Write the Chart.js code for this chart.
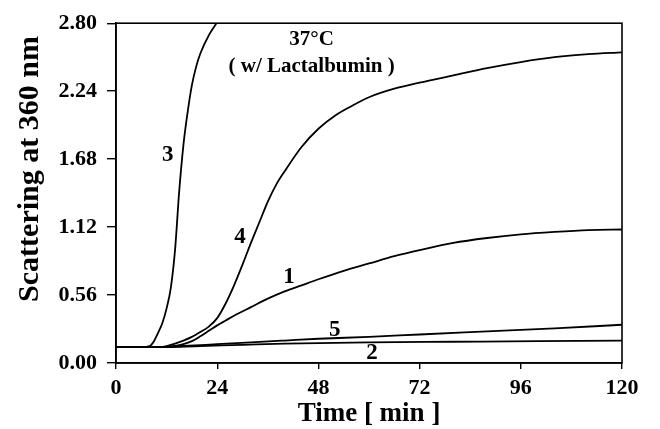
<!DOCTYPE html>
<html>
<head>
<meta charset="utf-8">
<script src="https://cdn.jsdelivr.net/npm/chart.js@4"></script>
<style>
  html, body { margin: 0; padding: 0; background: #fff; }
  #wrap { width: 660px; height: 429px; }
</style>
</head>
<body>
<div id="wrap"><canvas id="chart" width="660" height="429"></canvas></div>
<script>
// time in minutes, scattering at 360 nm
const t1 = [0, 10, 14, 16, 18, 20, 22, 24, 26, 28, 32, 36, 40, 44, 48, 54, 60, 66, 72, 80, 88, 96, 104, 112, 120];
const curve1 = [0.13, 0.13, 0.14, 0.155, 0.18, 0.22, 0.265, 0.31, 0.35, 0.39, 0.46, 0.53, 0.59, 0.64, 0.69, 0.76, 0.82, 0.88, 0.93, 0.99, 1.03, 1.06, 1.08, 1.095, 1.10];

const t2 = [0, 10, 20, 30, 40, 60, 80, 100, 120];
const curve2 = [0.13, 0.13, 0.14, 0.15, 0.16, 0.17, 0.175, 0.18, 0.185];

const t3 = [0, 6, 8, 9, 10, 11, 12, 13, 14, 15, 16, 17, 18, 19, 20, 22, 24, 26];
const curve3 = [0.13, 0.13, 0.14, 0.18, 0.25, 0.33, 0.45, 0.62, 0.93, 1.42, 1.80, 2.07, 2.29, 2.44, 2.55, 2.70, 2.81, 2.93];

const t4 = [0, 10, 12, 14, 16, 18, 20, 22, 24, 26, 28, 30, 32, 34, 36, 38, 40, 44, 48, 52, 56, 60, 66, 72, 80, 88, 96, 104, 112, 120];
const curve4 = [0.13, 0.13, 0.14, 0.16, 0.185, 0.215, 0.255, 0.30, 0.37, 0.49, 0.64, 0.81, 0.99, 1.16, 1.33, 1.47, 1.58, 1.78, 1.93, 2.04, 2.12, 2.19, 2.26, 2.31, 2.37, 2.43, 2.48, 2.52, 2.545, 2.56];

const t5 = [0, 10, 16, 24, 32, 40, 48, 60, 72, 88, 104, 120];
const curve5 = [0.13, 0.13, 0.14, 0.155, 0.17, 0.185, 0.20, 0.215, 0.235, 0.26, 0.285, 0.315];

const xTicks = [0, 24, 48, 72, 96, 120];
const yTicks = [0.00, 0.56, 1.12, 1.68, 2.24, 2.80];

// curve numbers and the condition note, placed in data units
const curveLabels = [
  { text: '3', x: 12.3, y: 1.71 },
  { text: '4', x: 29.4, y: 1.04 },
  { text: '1', x: 41, y: 0.71 },
  { text: '5', x: 51.9, y: 0.27 },
  { text: '2', x: 60.7, y: 0.08 }
];
const noteLines = [
  { text: '37°C', x: 46.4, y: 2.665 },
  { text: '( w/ Lactalbumin )', x: 46.4, y: 2.44 }
];

const serif = '"Liberation Serif", "Times New Roman", serif';

function pts(ts, vs) {
  return ts.map((t, i) => ({ x: t, y: vs[i] }));
}

function lineSet(ts, vs) {
  return {
    data: pts(ts, vs),
    borderColor: '#000',
    borderWidth: 1.8,
    pointRadius: 0,
    fill: false,
    cubicInterpolationMode: 'monotone'
  };
}

const textPlugin = {
  id: 'texts',
  afterDraw(chart) {
    const ctx = chart.ctx;
    const a = chart.chartArea;
    const xs = chart.scales.x, ys = chart.scales.y;
    ctx.save();
    // box round the plot
    ctx.strokeStyle = '#000';
    ctx.lineWidth = 1.6;
    ctx.strokeRect(a.left, a.top, a.right - a.left, a.bottom - a.top);

    ctx.fillStyle = '#000';
    ctx.textAlign = 'center';
    ctx.textBaseline = 'middle';
    ctx.font = 'bold 23px ' + serif;
    curveLabels.forEach(l => {
      ctx.fillText(l.text, xs.getPixelForValue(l.x), ys.getPixelForValue(l.y));
    });
    ctx.font = 'bold 21px ' + serif;
    noteLines.forEach(l => {
      ctx.fillText(l.text, xs.getPixelForValue(l.x), ys.getPixelForValue(l.y));
    });

    // y axis title
    ctx.translate(30.5, 169);
    ctx.rotate(-Math.PI / 2);
    ctx.font = 'bold 30px ' + serif;
    ctx.fillText('Scattering at 360 nm', 0, 0);
    ctx.restore();
  }
};

new Chart(document.getElementById('chart'), {
  type: 'line',
  data: {
    datasets: [
      lineSet(t1, curve1),
      lineSet(t2, curve2),
      lineSet(t3, curve3),
      lineSet(t4, curve4),
      lineSet(t5, curve5)
    ]
  },
  options: {
    responsive: false,
    animation: false,
    layout: { padding: { top: 18, right: 38, left: 0, bottom: 0 } },
    plugins: {
      legend: { display: false },
      tooltip: { enabled: false }
    },
    scales: {
      x: {
        type: 'linear',
        min: 0,
        max: 120,
        afterFit(scale) { scale.height = 66; },
        afterBuildTicks(scale) { scale.ticks = xTicks.map(v => ({ value: v })); },
        border: { color: '#000', width: 1.6 },
        grid: { drawOnChartArea: false, drawTicks: true, tickLength: 6, color: '#000', lineWidth: 1.4 },
        ticks: {
          color: '#000',
          padding: 6,
          maxRotation: 0,
          font: { family: serif, size: 22, weight: 'bold' },
          callback: v => String(v)
        },
        title: {
          display: true,
          text: 'Time [ min ]',
          color: '#000',
          padding: 0,
          font: { family: serif, size: 27, weight: 'bold', lineHeight: 1.1 }
        }
      },
      y: {
        min: 0,
        max: 2.8,
        afterFit(scale) { scale.width = 116; },
        afterBuildTicks(scale) { scale.ticks = yTicks.map(v => ({ value: v })); },
        border: { color: '#000', width: 1.6 },
        grid: { drawOnChartArea: false, drawTicks: true, tickLength: 9, color: '#000', lineWidth: 1.4 },
        ticks: {
          color: '#000',
          padding: 10,
          font: { family: serif, size: 22, weight: 'bold' },
          callback: v => Number(v).toFixed(2)
        }
      }
    }
  },
  plugins: [textPlugin]
});
</script>
</body>
</html>
